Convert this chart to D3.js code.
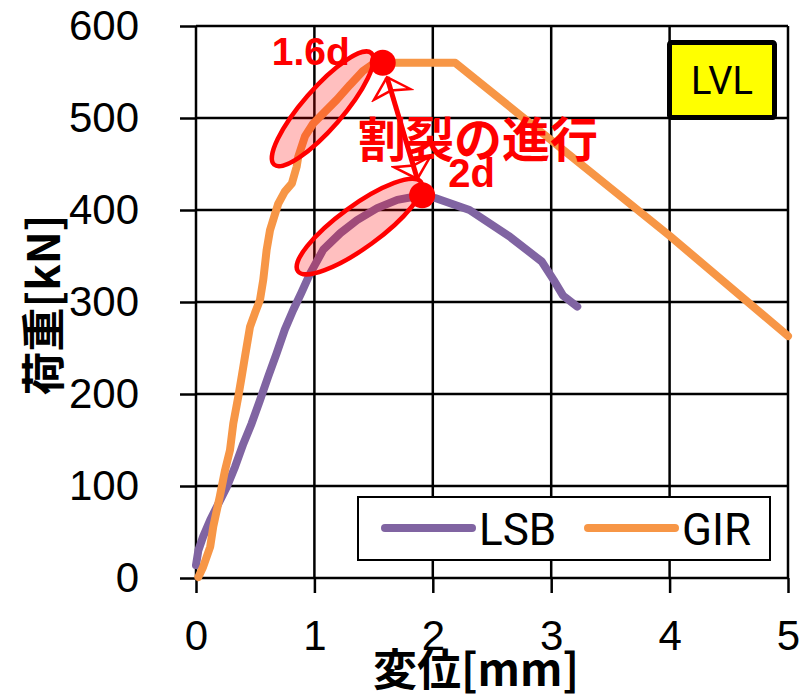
<!DOCTYPE html>
<html>
<head>
<meta charset="utf-8">
<script src="https://cdn.jsdelivr.net/npm/d3@7"></script>
<style>
  body { margin: 0; background: #fff; }
  svg { display: block; }
  .tick text { font-family: "Liberation Sans", Arial, sans-serif; font-size: 42px; fill: #000; }
</style>
</head>
<body>
<div id="graphicContainer"></div>
<script>
// displacement [mm] / load [kN]
var girX = [0.02, 0.06, 0.12, 0.146, 0.2, 0.245, 0.287, 0.315, 0.357, 0.386, 0.414, 0.456, 0.498, 0.54, 0.568, 0.597, 0.625, 0.695, 0.75, 0.81, 0.85, 0.864, 0.92, 0.99, 1.075, 1.19, 1.3, 1.41, 1.51, 1.577, 2.19, 4.0, 5.0]
var girY = [1, 12, 34, 56, 88, 117, 139, 168, 197, 219, 241, 273, 288, 302, 324, 357, 378, 407, 420, 429, 447, 458, 480, 494, 505, 520, 536, 551, 560, 560, 560, 372, 263]

var lsbX = [0, 0.02, 0.06, 0.12, 0.19, 0.26, 0.33, 0.4, 0.47, 0.54, 0.61, 0.68, 0.75, 0.82, 0.89, 0.96, 1.075, 1.22, 1.36, 1.53, 1.7, 1.91, 2.02, 2.31, 2.65, 2.92, 3.02, 3.1, 3.22]
var lsbY = [14, 30, 45, 63, 81, 99, 121, 146, 168, 193, 219, 244, 270, 291, 310, 330, 357, 375, 389, 402, 411, 416, 413, 400, 371, 344, 324, 307, 295]

var seriesNames = ["LSB", "GIR"]
var seriesColors = ["#8064A2", "#F79646"]

var xTicks = [0, 1, 2, 3, 4, 5]
var yTicks = [0, 100, 200, 300, 400, 500, 600]

// split points (red dots)
var peakX = [1.577, 1.91]
var peakY = [560, 416]
var peakLabels = ["1.6d", "2d"]

var width = 804
var height = 695
var margin = { top: 26, right: 16, bottom: 117, left: 196 }

var svg = d3.select("#graphicContainer").append("svg")
  .attr("width", width)
  .attr("height", height)

var x = d3.scaleLinear().domain([0, 5]).range([margin.left, width - margin.right])
var y = d3.scaleLinear().domain([0, 600]).range([height - margin.bottom, margin.top])

// grid
var grid = svg.append("g").attr("stroke", "#000").attr("stroke-width", 2.5)
grid.selectAll(".vg").data(xTicks).enter().append("line")
  .attr("x1", d => x(d)).attr("x2", d => x(d))
  .attr("y1", y(600)).attr("y2", y(0))
grid.selectAll(".hg").data(yTicks).enter().append("line")
  .attr("x1", x(0)).attr("x2", x(5))
  .attr("y1", d => y(d)).attr("y2", d => y(d))

var yAxis = d3.axisLeft(y).tickValues(yTicks).tickSize(16).tickPadding(41).tickFormat(d => d)
var xAxis = d3.axisBottom(x).tickValues(xTicks).tickSize(15).tickPadding(27).tickFormat(d => d)

svg.append("g").attr("class", "y").attr("transform", "translate(" + x(0) + ",0)").call(yAxis)
svg.append("g").attr("class", "x").attr("transform", "translate(0," + y(0) + ")").call(xAxis)
svg.selectAll(".domain").remove()
svg.selectAll(".tick line").attr("stroke", "#000").attr("stroke-width", 2.5)

// curves
var line = d3.line().x(d => x(d[0])).y(d => y(d[1]))
var lsb = lsbX.map((d, i) => [d, lsbY[i]])
var gir = girX.map((d, i) => [d, girY[i]])

svg.append("path").datum(lsb).attr("d", line)
  .attr("fill", "none").attr("stroke", seriesColors[0]).attr("stroke-width", 8)
  .attr("stroke-linejoin", "round").attr("stroke-linecap", "round")
svg.append("path").datum(gir).attr("d", line)
  .attr("fill", "none").attr("stroke", seriesColors[1]).attr("stroke-width", 8)
  .attr("stroke-linejoin", "round").attr("stroke-linecap", "round")

// highlight ellipses (centre in data units)
var ellX = [1.07, 1.38]
var ellY = [510, 382]
var ellRx = [74, 76]
var ellRy = [20, 21]
var ellAngle = [-49, -36]

ellX.forEach(function (d, i) {
  svg.append("ellipse")
    .attr("transform", "translate(" + x(d) + "," + y(ellY[i]) + ") rotate(" + ellAngle[i] + ")")
    .attr("rx", ellRx[i]).attr("ry", ellRy[i])
    .attr("fill", "rgba(255,0,0,0.25)")
    .attr("stroke", "#FF0000").attr("stroke-width", 4.5)
})

// arrow between the two split points
var defs = svg.append("defs")
defs.append("marker")
  .attr("id", "head")
  .attr("viewBox", "-24 -22 28 44")
  .attr("refX", 0).attr("refY", 0)
  .attr("markerUnits", "userSpaceOnUse")
  .attr("markerWidth", 28).attr("markerHeight", 44)
  .attr("orient", "auto-start-reverse")
  .append("path")
  .attr("d", "M-18,-19 L0,0 L-18,19 L-14,0 Z")
  .attr("fill", "none").attr("stroke", "#FF0000").attr("stroke-width", 2.5)
  .attr("stroke-linejoin", "miter")

var p0 = [x(peakX[0]), y(peakY[0])]
var p1 = [x(peakX[1]), y(peakY[1])]
var len = Math.hypot(p1[0] - p0[0], p1[1] - p0[1])
var ux = (p1[0] - p0[0]) / len
var uy = (p1[1] - p0[1]) / len
svg.append("line")
  .attr("x1", p0[0] + ux * 15).attr("y1", p0[1] + uy * 15)
  .attr("x2", p1[0] - ux * 17).attr("y2", p1[1] - uy * 17)
  .attr("stroke", "#FF0000").attr("stroke-width", 5)
  .attr("marker-start", "url(#head)").attr("marker-end", "url(#head)")

// dots
svg.selectAll(".peak").data(peakX).enter().append("circle")
  .attr("cx", d => x(d)).attr("cy", (d, i) => y(peakY[i]))
  .attr("r", 13).attr("fill", "#FF0000")

// labels next to dots
var labelDx = [-111, 26]
var labelDy = [2, -8]
svg.selectAll(".plabel").data(peakLabels).enter().append("text")
  .attr("x", (d, i) => x(peakX[i]) + labelDx[i])
  .attr("y", (d, i) => y(peakY[i]) + labelDy[i])
  .attr("font-family", "Liberation Sans, Arial, sans-serif")
  .attr("font-weight", "bold")
  .attr("font-size", (d, i) => i === 0 ? 39 : 40)
  .attr("fill", "#FF0000")
  .text(d => d)

svg.append("text")
  .attr("x", 358).attr("y", 157)
  .attr("font-family", "Noto Sans CJK JP, sans-serif")
  .attr("font-weight", "bold")
  .attr("font-size", 48)
  .attr("fill", "#FF0000")
  .text("割裂の進行")

// axis titles
svg.append("text")
  .attr("x", 476).attr("y", 686)
  .attr("text-anchor", "middle")
  .attr("font-family", "Noto Sans CJK JP, sans-serif")
  .attr("font-weight", "bold")
  .attr("font-size", 44)
  .text("変位[mm]")

svg.append("text")
  .attr("transform", "translate(60,305) rotate(-90)")
  .attr("text-anchor", "middle")
  .attr("font-family", "Noto Sans CJK JP, sans-serif")
  .attr("font-weight", "bold")
  .attr("font-size", 44)
  .text("荷重[kN]")

// legend
var legend = svg.append("g")
legend.append("rect")
  .attr("x", 358).attr("y", 497).attr("width", 412).attr("height", 63)
  .attr("fill", "#fff").attr("stroke", "#000").attr("stroke-width", 2)
var legX = [385, 588]
seriesNames.forEach(function (name, i) {
  legend.append("line")
    .attr("x1", legX[i]).attr("x2", legX[i] + 87)
    .attr("y1", 528).attr("y2", 528)
    .attr("stroke", seriesColors[i]).attr("stroke-width", 8).attr("stroke-linecap", "round")
  legend.append("text")
    .attr("x", legX[i] + 94).attr("y", 545)
    .attr("font-family", "Roboto, sans-serif")
    .attr("font-size", 44)
    .text(name)
})

// LVL box
svg.append("rect")
  .attr("x", 669.5).attr("y", 42.5).attr("width", 105).attr("height", 75).attr("rx", 2)
  .attr("fill", "#FFFF00").attr("stroke", "#000").attr("stroke-width", 5)
svg.append("text")
  .attr("x", 722).attr("y", 94)
  .attr("text-anchor", "middle")
  .attr("font-family", "Roboto, sans-serif")
  .attr("font-size", 38)
  .text("LVL")
</script>
</body>
</html>
